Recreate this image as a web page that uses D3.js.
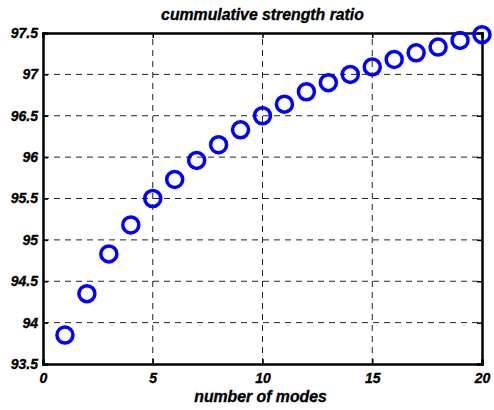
<!DOCTYPE html>
<html>
<head>
<meta charset="utf-8">
<script src="https://cdn.jsdelivr.net/npm/d3@7"></script>
<style>
  body { margin: 0; background: #fff; }
  text { font-family: "Liberation Sans", Arial, sans-serif; font-weight: bold; font-style: italic; stroke: #000; stroke-width: 0.35px; }
</style>
</head>
<body>
<script>
let modes = [1, 2, 3, 4, 5, 6, 7, 8, 9, 10, 11, 12, 13, 14, 15, 16, 17, 18, 19, 20];
let ratio = [93.85, 94.35, 94.83, 95.18, 95.5, 95.73, 95.96, 96.15, 96.33, 96.5,
             96.64, 96.79, 96.9, 97.0, 97.09, 97.18, 97.26, 97.33, 97.41, 97.48];
let xTicks = [0, 5, 10, 15, 20];
let yTicks = [93.5, 94, 94.5, 95, 95.5, 96, 96.5, 97, 97.5];

let width = 494;
let height = 410;
let margin = {left: 43, right: 12, top: 33, bottom: 46};

let svg = d3.select('body').append('svg')
    .attr('width', width)
    .attr('height', height);

let x = d3.scaleLinear()
    .domain([0, 20])
    .range([margin.left, width - margin.right]);
let y = d3.scaleLinear()
    .domain([93.5, 97.5])
    .range([height - margin.bottom, margin.top]);

// grid
svg.selectAll('.vgrid')
    .data(xTicks.slice(1, -1))
    .join('line')
    .attr('x1', d => x(d)).attr('x2', d => x(d))
    .attr('y1', y(93.5)).attr('y2', y(97.5))
    .attr('stroke', '#222')
    .attr('stroke-width', 1)
    .attr('stroke-dasharray', '6,5');
svg.selectAll('.hgrid')
    .data(yTicks.slice(1, -1))
    .join('line')
    .attr('x1', x(0)).attr('x2', x(20))
    .attr('y1', d => y(d)).attr('y2', d => y(d))
    .attr('stroke', '#222')
    .attr('stroke-width', 1)
    .attr('stroke-dasharray', '6,5');

// axes with inward ticks
let fontSize = '14px';
let xAxis = svg.append('g')
    .attr('transform', `translate(0,${y(93.5)})`)
    .call(d3.axisBottom(x).tickValues(xTicks).tickSize(-5).tickPadding(9).tickFormat(d3.format('d')));
let yAxis = svg.append('g')
    .attr('transform', `translate(${x(0)},0)`)
    .call(d3.axisLeft(y).tickValues(yTicks).tickSize(-5).tickPadding(5).tickFormat(d => d));
svg.append('g')
    .attr('transform', `translate(0,${y(97.5)})`)
    .call(d3.axisTop(x).tickValues(xTicks).tickSize(-5).tickFormat(''));
svg.append('g')
    .attr('transform', `translate(${x(20)},0)`)
    .call(d3.axisRight(y).tickValues(yTicks).tickSize(-5).tickFormat(''));

svg.selectAll('.domain').attr('stroke', '#000').attr('stroke-width', 2.5);
svg.selectAll('.tick line').attr('stroke', '#000').attr('stroke-width', 1.5);
svg.selectAll('.tick text').attr('fill', '#000').style('font-size', fontSize);

// markers
svg.selectAll('.pt')
    .data(modes)
    .join('circle')
    .attr('cx', d => x(d))
    .attr('cy', (d, i) => y(ratio[i]))
    .attr('r', 8)
    .attr('fill', 'none')
    .attr('stroke', '#0000ff')
    .attr('stroke-width', 3.5);

svg.append('text')
    .attr('x', (x(0) + x(20)) / 2)
    .attr('y', 20)
    .attr('text-anchor', 'middle')
    .style('font-size', '15.8px')
    .text('cummulative strength ratio');

svg.append('text')
    .attr('x', (x(0) + x(20)) / 2 - 2)
    .attr('y', 402)
    .attr('text-anchor', 'middle')
    .style('font-size', '15.8px')
    .text('number of modes');
</script>
</body>
</html>
